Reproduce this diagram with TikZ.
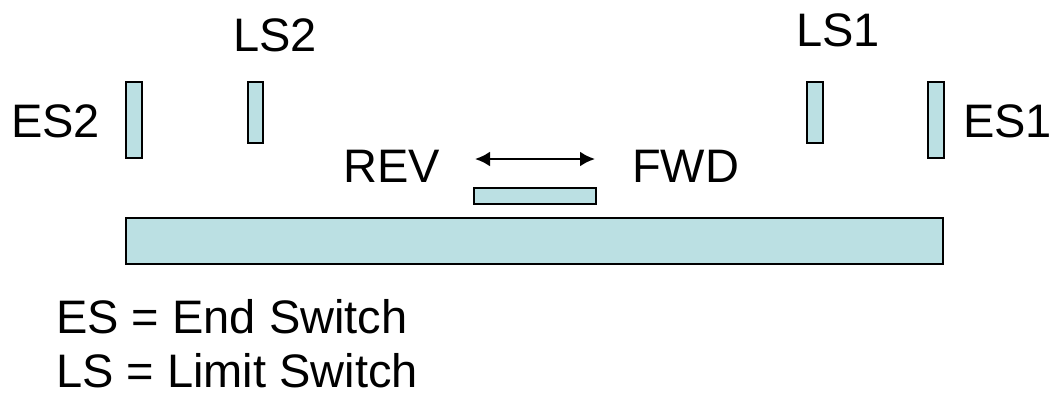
\documentclass[tikz,border=0pt]{standalone}
\usepackage{fontspec}
\setmainfont{Liberation Sans}
\usetikzlibrary{arrows.meta}
\definecolor{part}{RGB}{187,224,227}
\begin{document}
\begin{tikzpicture}[x=1pt,y=-1pt,
  partbox/.style={draw=black,fill=part,line width=2.2pt},
  lbl/.style={inner sep=0pt,anchor=base west,font=\fontsize{47}{55}\selectfont},
  motion/.style={line width=2.5pt,{Latex[length=15pt,width=15pt]}-{Latex[length=15pt,width=15pt]}}]
\useasboundingbox (0,0) rectangle (1050,392);
% switches
\draw[partbox] (126,82) rectangle (142,158);
\draw[partbox] (248,82) rectangle (263,143);
\draw[partbox] (807,82) rectangle (823,143);
\draw[partbox] (928,82) rectangle (944,158);
% carriage and rail
\draw[partbox] (474,188) rectangle (596,204);
\draw[partbox] (126,218) rectangle (943,264);
% labels
\node[lbl] (es2) at (11,137) {ES2};
\node[lbl] (ls2) at (233,51) {LS2};
\node[lbl] (ls1) at (796,46) {LS1};
\node[lbl] (es1) at (963,137) {ES1};
\node[lbl] (rev) at (343,182) {REV};
\node[lbl] (fwd) at (632,182) {FWD};
\coordinate (al) at (475,159);
\coordinate (ar) at (595,159);
\draw[motion] (al) -- (ar);
\node[lbl] (leg1) at (56,333) {ES = End Switch};
\node[lbl] (leg2) at (56,387) {LS = Limit Switch};
\end{tikzpicture}
\end{document}
